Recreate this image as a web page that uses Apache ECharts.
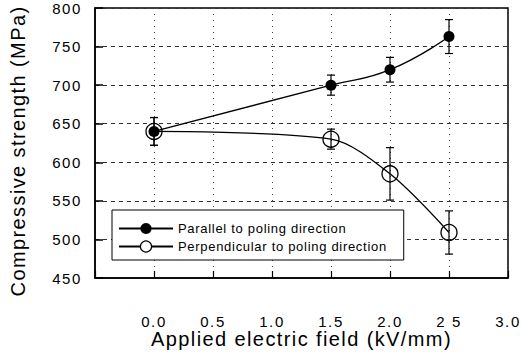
<!DOCTYPE html>
<html><head><meta charset="utf-8">
<script src="https://cdn.jsdelivr.net/npm/echarts@6/dist/echarts.min.js"></script>
<style>
html,body{margin:0;padding:0;background:#fff}
#c{width:522px;height:353px}
#c text[style*="20px"]{letter-spacing:1.4px}
#c text[style*="15px"]{letter-spacing:1.6px}
#c text[style*="13px"]{letter-spacing:0.7px}
</style>
</head><body><div id="c"></div>
<script>
const fieldX = [0.0, 1.5, 2.0, 2.5];
const parallelVals = [640, 700, 720, 763];
const parallelErr = [18, 13, 16, 22];
const perpVals = [640, 630, 585, 509];
const perpErr = [18, 13, 34, 28];
const xTickLabels = {'0': '0.0', '0.5': '0.5', '1': '1.0', '1.5': '1.5', '2': '2.0', '2.5': '2 5', '3': '3.0'};
const yTickLabels = ['450', '500', '550', '600', '650', '700', '750', '800'];

const F = '"Liberation Sans", Arial, sans-serif';
const chart = echarts.init(document.getElementById('c'), null, { renderer: 'svg' });

function errData(vals, errs) {
  return fieldX.map((x, i) => [x, vals[i] - errs[i], vals[i] + errs[i]]);
}
function errRender(params, api) {
  const x = api.value(0);
  const lo = api.coord([x, api.value(1)]);
  const hi = api.coord([x, api.value(2)]);
  const w = 4;
  const st = { stroke: '#000', lineWidth: 1.2 };
  return { type: 'group', children: [
    { type: 'line', shape: { x1: lo[0], y1: lo[1], x2: hi[0], y2: hi[1] }, style: st },
    { type: 'line', shape: { x1: lo[0] - w, y1: lo[1], x2: lo[0] + w, y2: lo[1] }, style: st },
    { type: 'line', shape: { x1: hi[0] - w, y1: hi[1], x2: hi[0] + w, y2: hi[1] }, style: st }
  ]};
}

chart.setOption({
  animation: false,
  backgroundColor: '#fff',
  grid: { left: 95, right: 14, top: 8, bottom: 75, show: true, borderColor: '#000', borderWidth: 1.5,
          outerBoundsMode: 'none', containLabel: false },
  legend: {
    left: 112, top: 210, orient: 'vertical',
    backgroundColor: '#fff', borderColor: '#000', borderWidth: 1,
    padding: [12, 40, 7, 6], itemGap: 5, itemWidth: 54, itemHeight: 14,
    textStyle: { fontFamily: F, fontSize: 13, color: '#000' },
    data: [
      { name: 'Parallel to poling direction' },
      { name: 'Perpendicular to poling direction', itemStyle: { color: '#fff', borderColor: '#000', borderWidth: 1.2 } }
    ]
  },
  xAxis: {
    type: 'value', min: -0.5, max: 3.0, interval: 0.5,
    name: 'Applied electric field (kV/mm)', nameLocation: 'middle', nameGap: 53, nameMoveOverlap: false,
    nameTextStyle: { fontFamily: F, fontSize: 20, lineHeight: 16, color: '#000' },
    axisLine: { onZero: false, lineStyle: { color: '#000', width: 1.5 } },
    axisTick: { inside: true, length: 7, lineStyle: { color: '#000', width: 1.2 } },
    axisLabel: { margin: 36, fontFamily: F, fontSize: 15, lineHeight: 14, color: '#000',
      formatter: v => xTickLabels[String(Math.round(v * 10) / 10)] || '' },
    splitLine: { show: true, lineStyle: { color: '#444', type: [1, 5], width: 1 } }
  },
  yAxis: {
    type: 'value', min: 450, max: 800, interval: 50,
    name: 'Compressive strength (MPa)', nameLocation: 'middle', nameGap: 67, nameMoveOverlap: false,
    nameTextStyle: { fontFamily: F, fontSize: 20, color: '#000', padding: [0, 16, 0, 0] },
    axisLine: { onZero: false, lineStyle: { color: '#000', width: 1.5 } },
    axisTick: { inside: true, length: 8, lineStyle: { color: '#000', width: 1.5 } },
    axisLabel: { margin: 13, fontFamily: F, fontSize: 15, color: '#000', padding: [9, 0, 0, 0],
      formatter: v => yTickLabels[Math.round((v - 450) / 50)] },
    splitLine: { show: true, lineStyle: { color: '#333', type: [4, 4], width: 1 } }
  },
  series: [
    {
      name: 'Parallel to poling direction', type: 'line', smooth: 0.5,
      data: fieldX.map((x, i) => [x, parallelVals[i]]),
      symbol: 'circle', symbolSize: 11,
      lineStyle: { color: '#000', width: 1.3 },
      itemStyle: { color: '#000' }, z: 3
    },
    {
      name: 'Perpendicular to poling direction', type: 'line', smooth: 0.3,
      data: fieldX.map((x, i) => [x, perpVals[i]]),
      symbol: 'circle', symbolSize: 16,
      lineStyle: { color: '#000', width: 1.3 },
      itemStyle: { color: 'rgba(255,255,255,0)', borderColor: '#000', borderWidth: 1.3 }, z: 4
    },
    { type: 'custom', renderItem: errRender, data: errData(parallelVals, parallelErr), z: 5, encode: { x: 0, y: [1, 2] } },
    { type: 'custom', renderItem: errRender, data: errData(perpVals, perpErr), z: 5, encode: { x: 0, y: [1, 2] } }
  ]
});
</script></body></html>
